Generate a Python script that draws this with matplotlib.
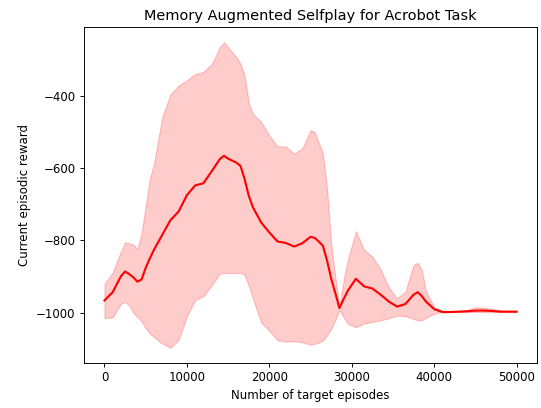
import matplotlib
matplotlib.use("Agg")
import matplotlib.pyplot as plt

episodes = [0, 1000, 2000, 2500, 3000, 3500, 4000, 4500, 5000, 5500, 6000, 7000, 8000,
            9000, 10000, 11000, 12000, 13000, 13500, 14000, 14500, 15000, 16000, 16500,
            17000, 17500, 18000, 19000, 20000, 21000, 22000, 23000, 24000, 25000, 25500,
            26000, 26500, 27000, 27500, 28000, 28500, 29000, 29500, 30500, 31500, 32500,
            33500, 34500, 35500, 36500, 37500, 38000, 38500, 39000, 40000, 41000, 42000,
            44000, 45000, 46000, 47000, 48000, 50000]

mean_reward = [-966, -943, -899, -886, -893, -902, -914, -908, -876, -850, -826, -785, -744,
               -720, -675, -648, -642, -609, -592, -575, -566, -574, -585, -594,
               -630, -676, -708, -750, -778, -803, -807, -817, -808, -790, -793,
               -803, -815, -855, -905, -945, -987, -963, -940, -906, -927, -933,
               -950, -969, -983, -976, -950, -943, -954, -969, -990, -998, -998,
               -996, -994, -994, -995, -997, -997]

upper_reward = [-920, -888, -830, -805, -808, -812, -824, -780, -704, -630, -588, -460, -396,
                -372, -357, -340, -334, -312, -290, -265, -252, -266, -293, -312,
                -344, -420, -450, -472, -510, -540, -540, -560, -545, -495, -500,
                -530, -560, -655, -810, -900, -985, -912, -855, -775, -825, -845,
                -880, -930, -960, -942, -868, -862, -882, -940, -985, -994, -996,
                -992, -985, -986, -989, -993, -997]

lower_reward = [-1015, -1013, -975, -970, -980, -1000, -1012, -1024, -1043, -1057, -1067, -1085, -1097,
                -1075, -1010, -965, -954, -925, -908, -892, -890, -890, -890, -890,
                -895, -925, -960, -1027, -1050, -1076, -1080, -1078, -1082, -1088, -1086,
                -1082, -1077, -1062, -1045, -1020, -992, -1012, -1030, -1040, -1030, -1025,
                -1021, -1015, -1008, -1009, -1017, -1021, -1021, -1014, -1003, -998, -998,
                -998, -998, -998, -998, -998, -998]

# the original looks like a default-size figure saved at a lower dpi
dpi = 84.5
fig = plt.figure(figsize=(541 / dpi, 408 / dpi), dpi=dpi)
ax = fig.add_axes([0.155, 0.110, 0.838, 0.824])

ax.fill_between(episodes, lower_reward, upper_reward, color='red', alpha=0.2)
ax.plot(episodes, mean_reward, color='red', linewidth=1.8)

ax.set_title('Memory Augmented Selfplay for Acrobot Task', fontsize=12.4)
ax.set_xlabel('Number of target episodes')
ax.set_ylabel('Current episodic reward')
ax.set_xticks([0, 10000, 20000, 30000, 40000, 50000])
ax.set_yticks([-1000, -800, -600, -400])

fig.savefig('out.png', dpi=dpi)
